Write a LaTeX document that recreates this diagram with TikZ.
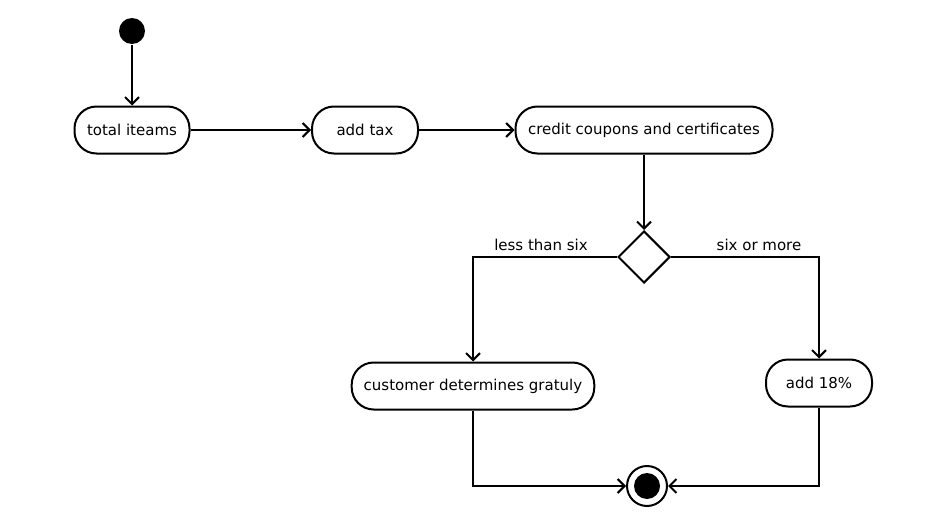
\documentclass[tikz,border=0pt]{standalone}
\usepackage{fontspec}
\setmainfont{DejaVu Sans}
\usetikzlibrary{shapes,arrows.meta}
\tikzset{
	act/.style      = {draw, line width=2pt, rectangle, rounded corners=22pt,
		minimum height=47pt, inner xsep=12pt, font=\fontsize{15}{18}\selectfont},
	decide/.style   = {draw, line width=2pt, diamond, minimum size=52pt, inner sep=0pt},
	init/.style     = {circle, fill=black, minimum size=26pt, inner sep=0pt},
	final/.style    = {circle, draw, line width=2pt, minimum size=40pt, inner sep=0pt,
		path picture={\fill (path picture bounding box.center) circle (13pt);}},
	guard/.style    = {font=\fontsize{15}{18}\selectfont}
}

\begin{document}
\begin{tikzpicture}[x=1pt, y=-1pt, line width=2pt, >={Straight Barb[length=7pt,width=14pt]}]
	\useasboundingbox (0,0) rectangle (932,530);
	\draw
	node at (132,31) [init] (st) {}
	node at (132,130) [act, minimum width=115pt] (a1) {total iteams}
	node at (365,130) [act, minimum width=106pt] (a2) {add tax}
	node at (644,130) [act, minimum width=257pt] (a3) {credit coupons and certificates}
	node at (644,257) [decide] (dc) {}
	node at (473,386) [act, minimum width=242pt] (a4) {customer determines gratuly}
	node at (819,383) [act, minimum width=106pt] (a5) {add 18\%}
	node at (647,486) [final] (en) {}
	node at (541,245) [guard] (g1) {less than six}
	node at (759,245) [guard] (g2) {six or more}
	;
	\draw[->](st)--(a1);
	\draw[->](a1)--(a2);
	\draw[->](a2)--(a3);
	\draw[->](a3)--(dc);
	\draw[->](dc.west)-|(a4.north);
	\draw[->](dc.east)-|(a5.north);
	\draw[->](a4.south)|-(en);
	\draw[->](a5.south)|-(en);
\end{tikzpicture}
\end{document}
